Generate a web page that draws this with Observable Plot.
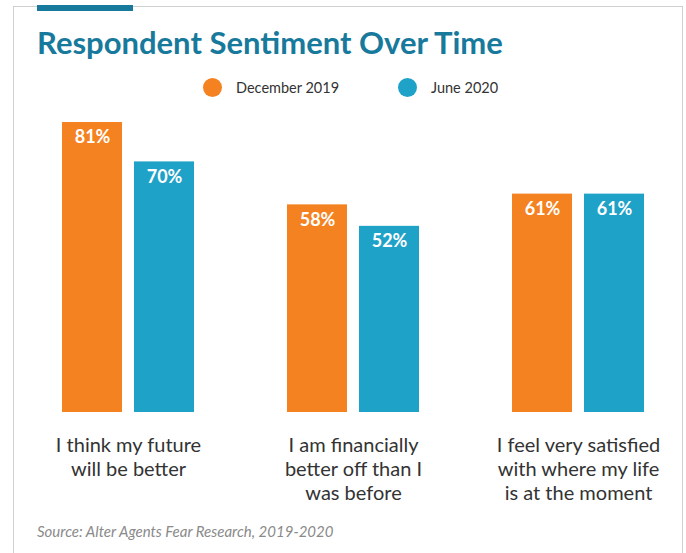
<!DOCTYPE html>
<html>
<head>
<meta charset="utf-8">
<script src="https://cdn.jsdelivr.net/npm/d3@7"></script>
<script src="https://cdn.jsdelivr.net/npm/@observablehq/plot@0.6"></script>
<style>
  html, body { margin: 0; padding: 0; background: #fff; }
  #wrap { position: relative; width: 686px; height: 553px; overflow: hidden; font-family: Lato, "Open Sans", sans-serif; }
  #frame { position: absolute; left: 13px; top: 6px; width: 670px; height: 600px; border: 1.5px solid #d0d0d0; box-sizing: border-box; }
  #accent { position: absolute; left: 37px; top: 5px; width: 96px; height: 6px; background: #17799b; }
  #title { position: absolute; left: 37px; top: 24px; font-size: 31px; font-weight: 700; color: #17799b; white-space: nowrap; line-height: 36px; }
  .leg { position: absolute; top: 78px; height: 19px; display: flex; align-items: center; font-size: 14.5px; color: #333; white-space: nowrap; }
  .dot { width: 19px; height: 19px; border-radius: 50%; margin-right: 14px; }
  #source { position: absolute; left: 37px; top: 522px; font-size: 15px; font-style: italic; color: #8a8a8a; white-space: nowrap; }
  #chart { position: absolute; left: 0; top: 0; }
</style>
</head>
<body>
<div id="wrap">
  <div id="frame"></div>
  <div id="accent"></div>
  <div id="title">Respondent Sentiment Over Time</div>
  <div id="legend"></div>
  <div id="chart"></div>
  <div id="source">Source: Alter Agents Fear Research, 2019-2020</div>
</div>
<script>
const categories = [
  "I think my future\nwill be better",
  "I am financially\nbetter off than I\nwas before",
  "I feel very satisfied\nwith where my life\nis at the moment"
];
const seriesNames = ["December 2019", "June 2020"];
const december2019 = [81, 58, 61];
const june2020 = [70, 52, 61];
const seriesColors = ["#f58220", "#1fa2c8"];

const data = [];
categories.forEach((c, i) => {
  data.push({category: c, series: seriesNames[0], value: december2019[i]});
  data.push({category: c, series: seriesNames[1], value: june2020[i]});
});

// legend
const legend = document.getElementById("legend");
const legendLeft = [203, 398];
seriesNames.forEach((s, i) => {
  const item = document.createElement("div");
  item.className = "leg";
  item.style.left = legendLeft[i] + "px";
  item.innerHTML = `<span class="dot" style="background:${seriesColors[i]}"></span><span>${s}</span>`;
  legend.appendChild(item);
});

const chart = Plot.plot({
  width: 686,
  height: 553,
  marginLeft: 48,
  marginRight: 28,
  marginTop: 54,
  marginBottom: 141,
  style: {background: "transparent", fontFamily: "Lato, 'Open Sans', sans-serif"},
  fx: {domain: categories, paddingInner: 0.2889, paddingOuter: 0, axis: null},
  x: {domain: seriesNames, paddingInner: 12 / 72, paddingOuter: 0.194, axis: null},
  y: {domain: [0, 100], axis: null},
  color: {domain: seriesNames, range: seriesColors},
  marks: [
    Plot.barY(data, {fx: "category", x: "series", y: "value", fill: "series"}),
    Plot.text(data, {
      fx: "category", x: "series", y: "value",
      text: d => d.value + "%",
      lineAnchor: "top", dy: 8,
      fill: "white", fontSize: 18, fontWeight: 700
    }),
    Plot.text(categories, {
      fx: d => d, frameAnchor: "bottom",
      text: d => d,
      lineAnchor: "top", dy: 22,
      lineHeight: 24 / 20,
      fill: "#333", fontSize: 20
    })
  ]
});
document.getElementById("chart").appendChild(chart);
</script>
</body>
</html>
